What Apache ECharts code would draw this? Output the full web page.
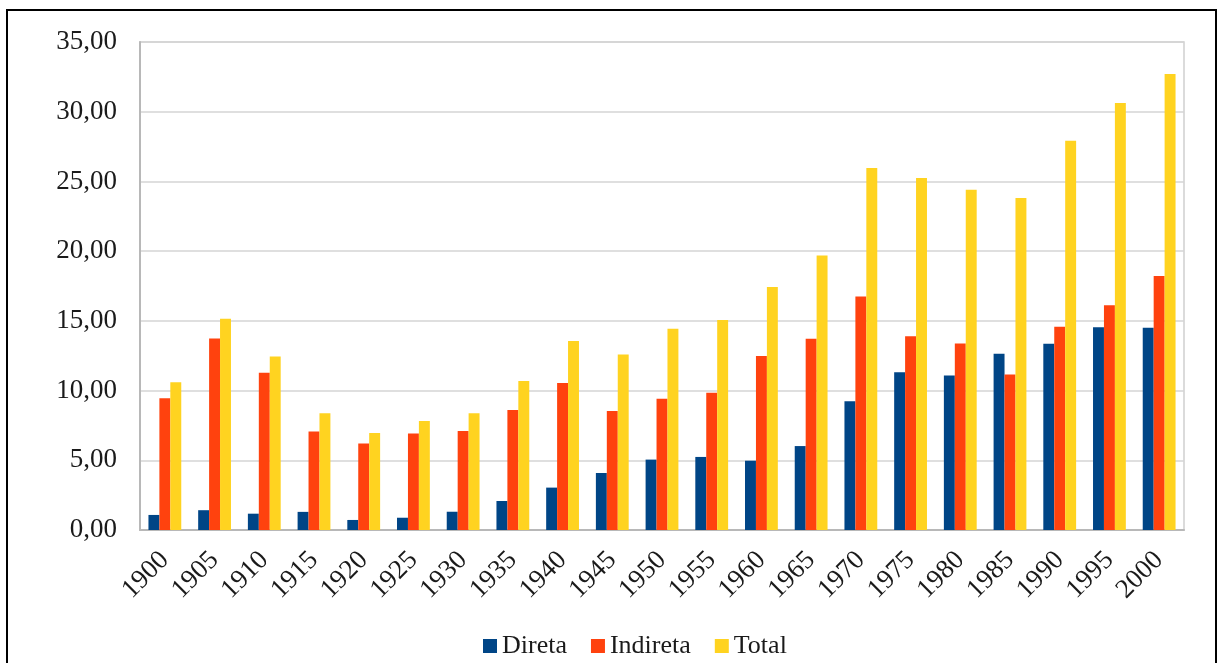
<!DOCTYPE html>
<html>
<head>
<meta charset="utf-8">
<script src="https://cdn.jsdelivr.net/npm/echarts@6/dist/echarts.min.js"></script>
<style>
  html, body { margin: 0; padding: 0; background: #fff; }
  #chart { width: 1219px; height: 663px; }
</style>
</head>
<body>
<div id="chart"></div>
<script>
// Years on the category axis
const years = ['1900','1905','1910','1915','1920','1925','1930','1935','1940','1945','1950',
               '1955','1960','1965','1970','1975','1980','1985','1990','1995','2000'];

// Series values
const direta   = [1.08, 1.42, 1.17, 1.30, 0.72, 0.88, 1.31, 2.08, 3.04, 4.09, 5.05,
                  5.24, 4.97, 6.02, 9.24, 11.32, 11.08, 12.64, 13.35, 14.54, 14.50];
const indireta = [9.45, 13.74, 11.27, 7.07, 6.21, 6.93, 7.10, 8.60, 10.55, 8.54, 9.42,
                  9.85, 12.48, 13.72, 16.74, 13.90, 13.37, 11.15, 14.57, 16.12, 18.22];
const total    = [10.60, 15.16, 12.45, 8.37, 6.95, 7.82, 8.37, 10.69, 13.56, 12.58, 14.44,
                  15.06, 17.43, 19.68, 25.96, 25.24, 24.40, 23.81, 27.92, 30.62, 32.71];

const seriesNames = ['Direta', 'Indireta', 'Total'];
const seriesColors = ['#004586', '#ff420e', '#ffd320'];

const font = '"Liberation Serif", "Times New Roman", serif';
const textColor = '#1a1a1a';

const chart = echarts.init(document.getElementById('chart'), null, { renderer: 'canvas' });

chart.setOption({
  animation: false,
  backgroundColor: '#ffffff',
  color: seriesColors,
  graphic: [{
    type: 'rect',
    shape: { x: 7, y: 10, width: 1209, height: 700 },
    style: { fill: 'none', stroke: '#000', lineWidth: 2 },
    silent: true
  }],
  grid: {
    left: 140, right: 35, top: 42, bottom: 133,
    show: true, borderColor: '#cfcfcf', borderWidth: 1.5, backgroundColor: 'transparent'
  },
  legend: {
    left: 483, top: 633, padding: 0,
    itemWidth: 14, itemHeight: 14, itemGap: 24,
    icon: 'rect',
    textStyle: { fontFamily: font, fontSize: 26, color: textColor },
    data: seriesNames
  },
  xAxis: {
    type: 'category',
    data: years,
    axisLine: { show: true, lineStyle: { color: '#b8b8b8', width: 2 } },
    axisTick: { show: false },
    axisLabel: {
      rotate: 45, margin: 26, interval: 0,
      fontFamily: font, fontSize: 27, color: textColor
    }
  },
  yAxis: {
    type: 'value',
    min: 0, max: 35, interval: 5,
    axisLine: { show: true, lineStyle: { color: '#b8b8b8', width: 2 } },
    axisTick: { show: false },
    splitLine: { lineStyle: { color: '#d4d4d4', width: 1.5 } },
    axisLabel: {
      margin: 23,
      fontFamily: font, fontSize: 27, color: textColor,
      formatter: v => v.toFixed(2).replace('.', ',')
    }
  },
  series: [
    { name: seriesNames[0], type: 'bar', data: direta, barGap: '0%', barCategoryGap: '34%' },
    { name: seriesNames[1], type: 'bar', data: indireta, barGap: '0%', barCategoryGap: '34%' },
    { name: seriesNames[2], type: 'bar', data: total, barGap: '0%', barCategoryGap: '34%' }
  ]
});
</script>
</body>
</html>
